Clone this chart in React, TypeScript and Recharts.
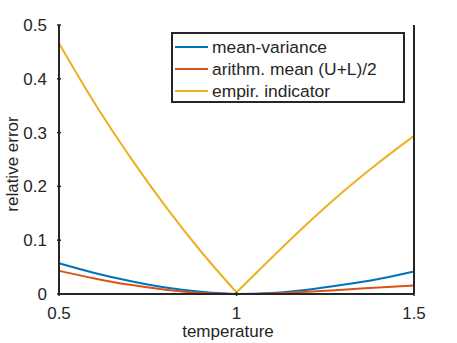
import { LineChart, Line, XAxis, YAxis } from 'recharts';

const temps = [0.5, 0.6, 0.7, 0.8, 0.9, 1.0, 1.1, 1.2, 1.3, 1.4, 1.5];
const meanVariance = [0.057, 0.039, 0.024, 0.012, 0.004, 0, 0.002, 0.008, 0.017, 0.028, 0.042];
const arithMean = [0.043, 0.029, 0.017, 0.008, 0.002, 0, 0.001, 0.004, 0.008, 0.012, 0.016];
const empirIndicator = [0.466, 0.355, 0.255, 0.163, 0.079, 0.003, 0.068, 0.131, 0.19, 0.244, 0.294];

const xTicks = [0.5, 1, 1.5];
const yTicks = [0, 0.1, 0.2, 0.3, 0.4, 0.5];

const series = [
  { key: 'mv', name: 'mean-variance', color: '#0072BD' },
  { key: 'am', name: 'arithm. mean (U+L)/2', color: '#D95319' },
  { key: 'ei', name: 'empir. indicator', color: '#EDB120' },
];

// the empirical curve has a sharp corner at t = 1, so it is drawn in two smooth halves
const data = temps.map((t, i) => ({
  t,
  mv: meanVariance[i],
  am: arithMean[i],
  eiL: t <= 1 ? empirIndicator[i] : null,
  eiR: t >= 1 ? empirIndicator[i] : null,
}));

const AXIS = '#262626';
const FONT = '"Liberation Sans", Arial, sans-serif';
const FS = 17;

function BottomTick({ x, y, payload }: any) {
  return (
    <g>
      <line x1={x} y1={y} x2={x} y2={y - 4} stroke={AXIS} strokeWidth={1.5} />
      <text x={x} y={y + 22.5} textAnchor="middle" fill={AXIS} fontSize={FS} fontFamily={FONT}>
        {payload.value}
      </text>
    </g>
  );
}

function TopTick({ x, y }: any) {
  return <line x1={x} y1={y} x2={x} y2={y + 4} stroke={AXIS} strokeWidth={1.5} />;
}

function LeftTick({ x, y, payload }: any) {
  return (
    <g>
      <line x1={x} y1={y} x2={x + 4} y2={y} stroke={AXIS} strokeWidth={1.5} />
      <text x={x - 10} y={y + 6} textAnchor="end" fill={AXIS} fontSize={FS} fontFamily={FONT}>
        {payload.value}
      </text>
    </g>
  );
}

function RightTick({ x, y }: any) {
  return <line x1={x} y1={y} x2={x - 4} y2={y} stroke={AXIS} strokeWidth={1.5} />;
}

function LegendBox() {
  return (
    <div
      style={{
        position: 'absolute',
        left: 171,
        top: 32,
        width: 230,
        height: 65,
        border: `2px solid ${AXIS}`,
        background: '#fff',
        fontFamily: FONT,
        fontSize: 17.4,
        color: AXIS,
        paddingTop: 2,
      }}
    >
      {series.map(s => (
        <div key={s.key} style={{ display: 'flex', alignItems: 'center', height: 22, lineHeight: '22px' }}>
          <span style={{ display: 'inline-block', width: 33, height: 2, background: s.color, marginLeft: 2, marginRight: 4 }} />
          <span>{s.name}</span>
        </div>
      ))}
    </div>
  );
}

export default function App() {
  const yellow = series[2].color;
  return (
    <div style={{ position: 'absolute', left: 0, top: 0, width: 457, height: 343, background: '#fff' }}>
      <LineChart width={457} height={343} data={data} margin={{ top: 25, right: 0, left: 0, bottom: 0 }}>
        <XAxis
          dataKey="t"
          type="number"
          domain={[0.5, 1.5]}
          ticks={xTicks}
          height={49}
          tickSize={0}
          tickLine={false}
          axisLine={{ stroke: AXIS, strokeWidth: 2 }}
          tick={<BottomTick />}
          interval={0}
        />
        <XAxis
          xAxisId="top"
          dataKey="t"
          type="number"
          orientation="top"
          domain={[0.5, 1.5]}
          ticks={xTicks}
          height={0}
          tickSize={0}
          tickLine={false}
          axisLine={{ stroke: AXIS, strokeWidth: 2 }}
          tick={<TopTick />}
          interval={0}
        />
        <YAxis
          type="number"
          domain={[0, 0.5]}
          ticks={yTicks}
          width={59}
          tickSize={0}
          tickLine={false}
          axisLine={{ stroke: AXIS, strokeWidth: 2 }}
          tick={<LeftTick />}
          interval={0}
        />
        <YAxis
          yAxisId="right"
          orientation="right"
          type="number"
          domain={[0, 0.5]}
          ticks={yTicks}
          width={43}
          tickSize={0}
          tickLine={false}
          axisLine={{ stroke: AXIS, strokeWidth: 2 }}
          tick={<RightTick />}
          interval={0}
        />
        <Line dataKey="mv" type="monotone" stroke={series[0].color} strokeWidth={2} dot={false} isAnimationActive={false} />
        <Line dataKey="am" type="monotone" stroke={series[1].color} strokeWidth={2} dot={false} isAnimationActive={false} />
        <Line dataKey="eiL" type="monotone" stroke={yellow} strokeWidth={2} dot={false} isAnimationActive={false} />
        <Line dataKey="eiR" type="monotone" stroke={yellow} strokeWidth={2} dot={false} isAnimationActive={false} />
      </LineChart>
      <LegendBox />
      <svg width={457} height={343} style={{ position: 'absolute', left: 0, top: 0, pointerEvents: 'none' }}>
        <text x={228} y={337} textAnchor="middle" fill={AXIS} fontSize={FS} fontFamily={FONT}>
          temperature
        </text>
        <text
          x={18}
          y={164}
          textAnchor="middle"
          transform="rotate(-90 18 164)"
          fill={AXIS}
          fontSize={FS}
          fontFamily={FONT}
        >
          relative error
        </text>
      </svg>
    </div>
  );
}
